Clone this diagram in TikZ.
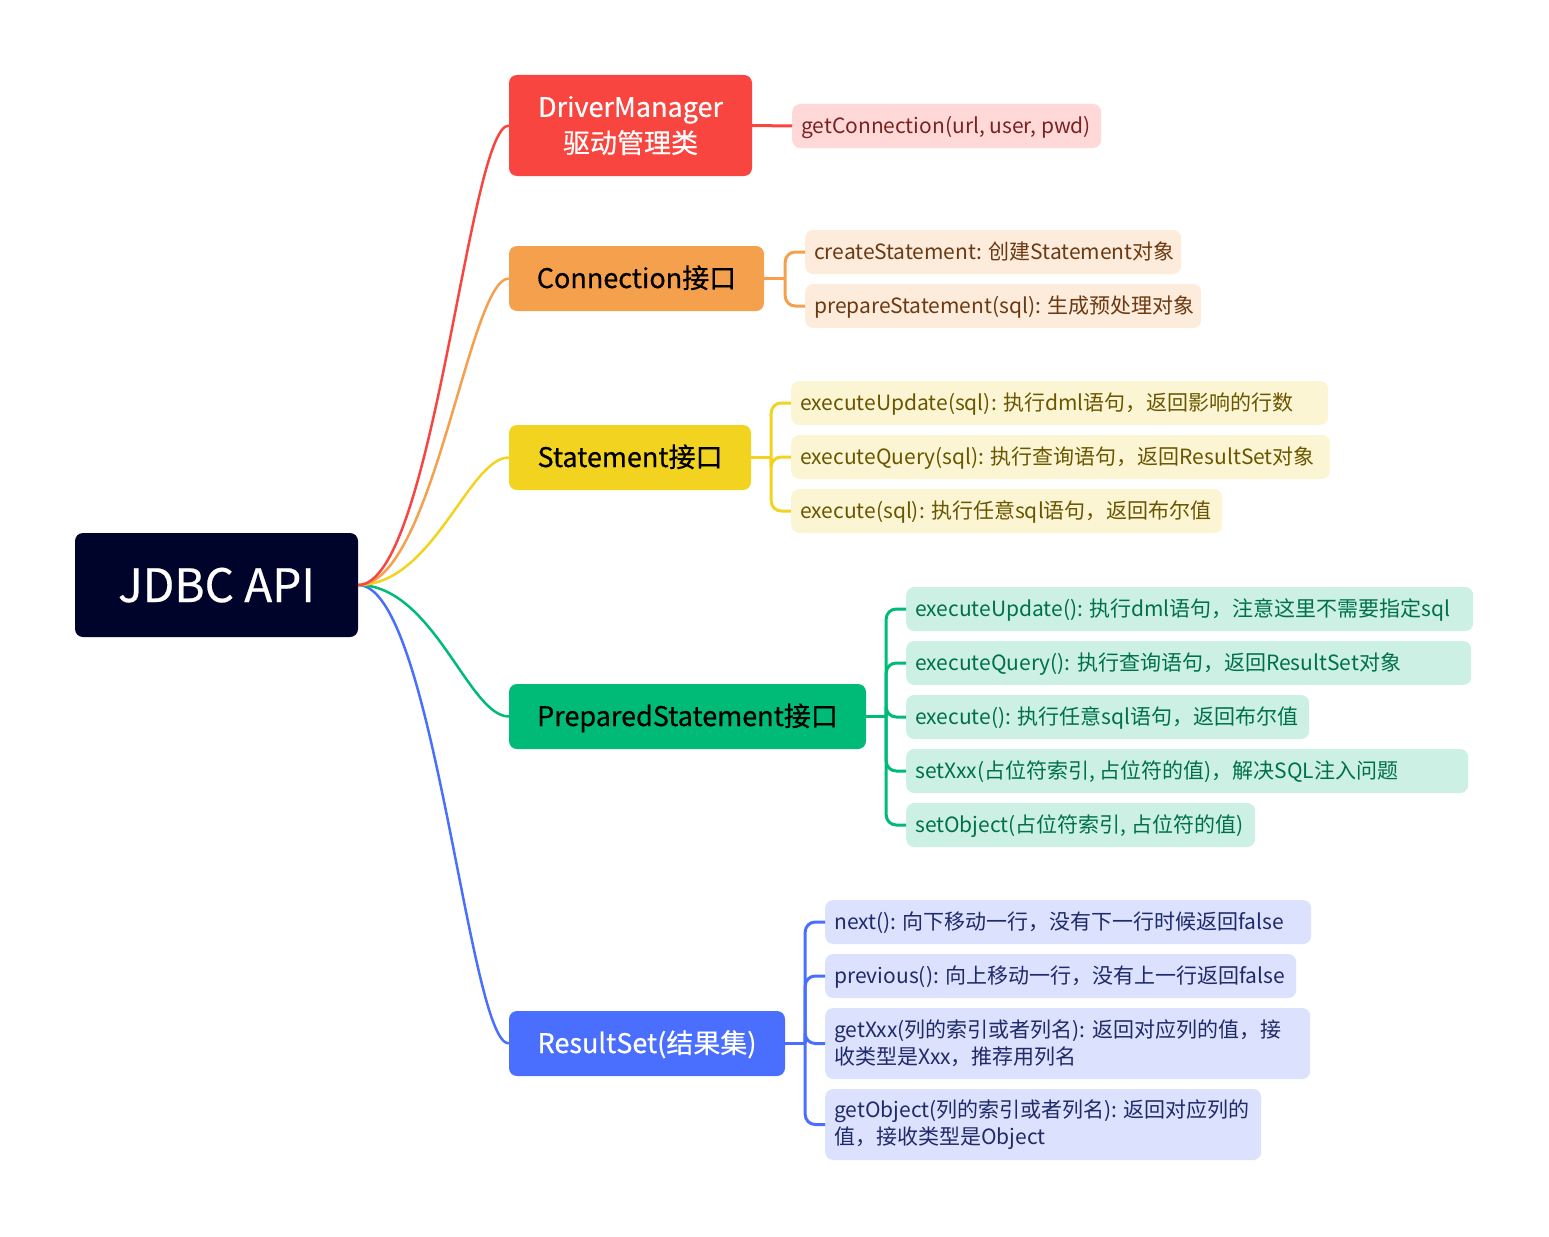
\documentclass[tikz,border=0pt]{standalone}
\usepackage{fontspec}
\setmainfont{Noto Sans CJK SC}
\newfontfamily\medfont{Noto Sans CJK SC}[FakeBold=0.5]
\usetikzlibrary{calc}

% palette
\definecolor{rootfill}{HTML}{00032A}
\definecolor{cred}{HTML}{F94540}
\definecolor{corange}{HTML}{F5A04C}
\definecolor{cyellow}{HTML}{F2D31F}
\definecolor{cgreen}{HTML}{00BA77}
\definecolor{cblue}{HTML}{4A6FFF}
\definecolor{lred}{HTML}{FFD9D8}
\definecolor{tred}{HTML}{7A2222}
\definecolor{lorange}{HTML}{FDEBDB}
\definecolor{torange}{HTML}{6B3A12}
\definecolor{lyellow}{HTML}{FCF5D4}
\definecolor{tyellow}{HTML}{6A5600}
\definecolor{lgreen}{HTML}{CCF1E4}
\definecolor{tgreen}{HTML}{00704A}
\definecolor{lblue}{HTML}{DCE2FD}
\definecolor{tblue}{HTML}{1E2A6A}

% leaf text in a box of fixed width, flush left
\newcommand\lw[2]{\makebox[#1pt][l]{#2}}
\newcommand\lwtwo[2]{\parbox{#1pt}{\raggedright #2}}

\tikzset{
  rootbox/.style={fill=rootfill, text=white, rounded corners=8pt,
    minimum width=283pt, minimum height=104pt, inner sep=0pt,
    font=\medfont\fontsize{46}{52}\selectfont, text height=34pt, text depth=0pt},
  branch/.style={rounded corners=8pt, inner sep=0pt, minimum height=65pt,
    font=\medfont\fontsize{27}{36}\selectfont, text height=20pt, text depth=1pt},
  leaf/.style={rounded corners=8pt, inner xsep=9pt, inner ysep=0pt,
    minimum height=44pt, anchor=west,
    font=\fontsize{21}{27}\selectfont, text height=17pt, text depth=2pt},
  leaftwo/.style={rounded corners=8pt, inner xsep=9pt, inner ysep=0pt,
    minimum height=71pt, anchor=west,
    font=\fontsize{21}{27}\selectfont},
  trunk/.style={line width=2.5pt},
  twig/.style={line width=3pt, rounded corners=10pt},
}

\begin{document}
\begin{tikzpicture}[x=1pt, y=-1pt]
\useasboundingbox (0,0) rectangle (1549,1236);

% central topic
\node[rootbox] (root) at (216.5,585) {JDBC API};

% main branches
\node[branch, fill=cred, text=white, minimum width=243pt, minimum height=101pt,
      align=center, text height=, text depth=] (dm) at (630.5,125.5)
      {DriverManager\\驱动管理类};
\node[branch, fill=corange, text=black, minimum width=255pt] (conn) at (636.5,278.5) {Connection接口};
\node[branch, fill=cyellow, text=black, minimum width=242pt] (stmt) at (630,457.5) {Statement接口};
\node[branch, fill=cgreen, text=black, minimum width=357pt] (prep) at (687.5,716.5) {PreparedStatement接口};
\node[branch, fill=cblue, text=white, minimum width=276pt] (rs) at (647,1043.5) {ResultSet(结果集)};

% curves from the central topic
\foreach \b/\c in {rs/cblue, prep/cgreen, stmt/cyellow, conn/corange, dm/cred}
  \draw[trunk, \c] (root.east) .. controls +(75,0) and +(-40,0) .. (\b.west);

% DriverManager
\node[leaf, fill=lred, text=tred] (d1) at (792,126) {\lw{291}{getConnection(url, user, pwd)}};
\draw[twig, cred] (dm.east) -- (d1.west);

% Connection
\node[leaf, fill=lorange, text=torange] (c1) at (805,252) {\lw{358}{createStatement: 创建Statement对象}};
\node[leaf, fill=lorange, text=torange] (c2) at (805,306) {\lw{378}{prepareStatement(sql): 生成预处理对象}};
\coordinate (cs) at ($(conn.east)+(21,0)$);
\draw[twig, corange] (conn.east) -- (cs);
\foreach \l in {c1,c2} \draw[twig, corange] (cs) |- (\l.west);

% Statement
\node[leaf, fill=lyellow, text=tyellow] (s1) at (791,403) {\lw{519}{executeUpdate(sql): 执行dml语句，返回影响的行数}};
\node[leaf, fill=lyellow, text=tyellow] (s2) at (791,457) {\lw{521}{executeQuery(sql): 执行查询语句，返回ResultSet对象}};
\node[leaf, fill=lyellow, text=tyellow] (s3) at (791,511) {\lw{413}{execute(sql): 执行任意sql语句，返回布尔值}};
\coordinate (ss) at ($(stmt.east)+(20,0)$);
\draw[twig, cyellow] (stmt.east) -- (ss);
\foreach \l in {s1,s2,s3} \draw[twig, cyellow] (ss) |- (\l.west);

% PreparedStatement
\node[leaf, fill=lgreen, text=tgreen] (p1) at (906,609) {\lw{549}{executeUpdate(): 执行dml语句，注意这里不需要指定sql}};
\node[leaf, fill=lgreen, text=tgreen] (p2) at (906,663) {\lw{547}{executeQuery(): 执行查询语句，返回ResultSet对象}};
\node[leaf, fill=lgreen, text=tgreen] (p3) at (906,717) {\lw{385}{execute(): 执行任意sql语句，返回布尔值}};
\node[leaf, fill=lgreen, text=tgreen] (p4) at (906,771) {\lw{544}{setXxx(占位符索引, 占位符的值)，解决SQL注入问题}};
\node[leaf, fill=lgreen, text=tgreen] (p5) at (906,825) {\lw{331}{setObject(占位符索引, 占位符的值)}};
\coordinate (ps) at ($(prep.east)+(20,0)$);
\draw[twig, cgreen] (prep.east) -- (ps);
\foreach \l in {p1,p2,p3,p4,p5} \draw[twig, cgreen] (ps) |- (\l.west);

% ResultSet
\node[leaf, fill=lblue, text=tblue] (r1) at (825,922) {\lw{468}{next(): 向下移动一行，没有下一行时候返回false}};
\node[leaf, fill=lblue, text=tblue] (r2) at (825,976) {\lw{453}{previous(): 向上移动一行，没有上一行返回false}};
\node[leaftwo, fill=lblue, text=tblue] (r3) at (825,1043.5) {\lwtwo{467}{getXxx(列的索引或者列名): 返回对应列的值，接\\收类型是Xxx，推荐用列名}};
\node[leaftwo, fill=lblue, text=tblue] (r4) at (825,1124.5) {\lwtwo{418}{getObject(列的索引或者列名): 返回对应列的\\值，接收类型是Object}};
\coordinate (rsp) at ($(rs.east)+(20,0)$);
\draw[twig, cblue] (rs.east) -- (rsp);
\foreach \l in {r1,r2,r3,r4} \draw[twig, cblue] (rsp) |- (\l.west);
\end{tikzpicture}
\end{document}
